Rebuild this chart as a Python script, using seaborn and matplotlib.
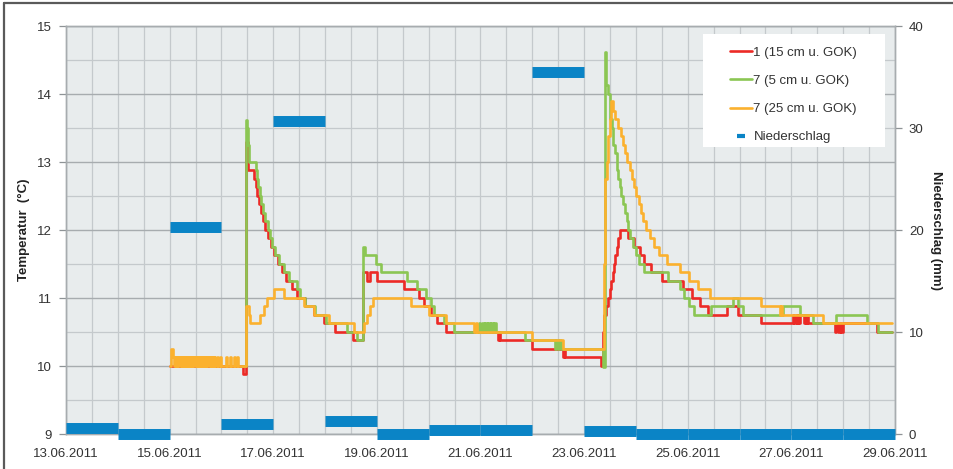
import numpy as np
import pandas as pd
import matplotlib
matplotlib.use("Agg")
import matplotlib.pyplot as plt
import seaborn as sns
from matplotlib.ticker import MultipleLocator, FixedLocator, FixedFormatter
from matplotlib.lines import Line2D
from matplotlib.patches import Rectangle

# x values are days since 13.06.2011 00:00, step values in degC
t1_days = [2.00, 3.42, 3.47, 3.52, 3.62, 3.66, 3.69, 3.72, 3.76, 3.80, 3.85, 3.90, 3.96,
           4.02, 4.09, 4.16, 4.24, 4.36, 4.45, 4.62, 4.78, 4.98, 5.20, 5.53, 5.74, 5.80,
           5.86, 6.01, 6.53, 6.81, 6.91, 7.04, 7.17, 7.33, 8.33, 8.35, 8.37, 9.00,
           9.59, 9.61, 9.63, 10.33, 10.37, 10.39, 10.43, 10.46, 10.49, 10.52, 10.55,
           10.58, 10.60, 10.63, 10.66, 10.69, 10.85, 10.97, 11.08, 11.16, 11.30, 11.50,
           11.90, 12.08, 12.23, 12.39, 12.75, 12.97, 13.42, 14.04, 14.06, 14.08, 14.10,
           14.12, 14.14, 14.16, 14.23, 14.25, 14.27, 14.29, 14.31, 14.33, 14.84, 14.87,
           14.90, 14.93, 14.96, 15.00, 15.65, 15.94]
t1_temp = [10.0, 9.88, 13.3, 12.88, 12.75, 12.63, 12.5, 12.38, 12.25, 12.13, 12.0, 11.88, 11.75,
           11.63, 11.5, 11.38, 11.25, 11.13, 11.0, 10.88, 10.75, 10.63, 10.5, 10.38, 11.38, 11.25,
           11.38, 11.25, 11.13, 11.0, 10.88, 10.75, 10.63, 10.5, 10.38, 10.5, 10.38, 10.25,
           10.13, 10.25, 10.13, 10.0, 10.5, 10.75, 10.88, 11.0, 11.13, 11.25, 11.38,
           11.5, 11.63, 11.75, 11.88, 12.0, 11.88, 11.75, 11.63, 11.5, 11.38, 11.25,
           11.13, 11.0, 10.88, 10.75, 10.88, 10.75, 10.63, 10.75, 10.63, 10.75, 10.63,
           10.75, 10.63, 10.75, 10.75, 10.63, 10.75, 10.63, 10.75, 10.63, 10.5, 10.63,
           10.5, 10.63, 10.5, 10.63, 10.5, 10.5]

t7_days = [3.40, 3.48, 3.50, 3.52, 3.54, 3.66, 3.69, 3.71, 3.74, 3.77, 3.81, 3.85, 3.89,
           3.93, 3.98, 4.04, 4.12, 4.20, 4.30, 4.45, 4.52, 4.62, 4.80, 5.02, 5.43, 5.62,
           5.73, 5.78, 5.98, 6.07, 6.59, 6.78, 6.94, 7.04, 7.10, 7.30, 7.49, 7.97, 8.00,
           8.03, 8.06, 8.09, 8.12, 8.15, 8.18, 8.21, 8.24, 8.27, 8.30, 8.85, 9.43, 9.46,
           9.49, 9.52, 9.55, 9.59, 10.36, 10.41, 10.43, 10.47, 10.50, 10.53, 10.56, 10.60,
           10.63, 10.66, 10.69, 10.72, 10.75, 10.78, 10.82, 10.85, 10.88, 10.95, 11.00,
           11.06, 11.15, 11.62, 11.85, 11.92, 12.02, 12.12, 12.45, 12.88, 12.97, 13.07,
           13.84, 14.16, 14.42, 14.87, 15.45, 15.68, 15.94]
t7_temp = [10.0, 13.62, 13.5, 13.25, 13.0, 12.88, 12.75, 12.63, 12.5, 12.38, 12.25, 12.13, 12.0,
           11.88, 11.75, 11.63, 11.5, 11.38, 11.25, 11.13, 11.0, 10.88, 10.75, 10.63, 10.5, 10.38,
           11.75, 11.63, 11.5, 11.38, 11.25, 11.13, 11.0, 10.88, 10.75, 10.63, 10.5, 10.63, 10.5,
           10.63, 10.5, 10.63, 10.5, 10.63, 10.5, 10.63, 10.5, 10.63, 10.5, 10.38, 10.25, 10.38,
           10.25, 10.38, 10.25, 10.25, 9.98, 14.62, 14.13, 14.0, 13.63, 13.5, 13.25, 13.13,
           12.88, 12.75, 12.63, 12.5, 12.38, 12.25, 12.13, 12.0, 11.88, 11.75, 11.63,
           11.5, 11.38, 11.25, 11.13, 11.0, 10.88, 10.75, 10.88, 11.0, 10.88, 10.75,
           10.88, 10.75, 10.63, 10.75, 10.63, 10.5, 10.5]

t25_days = [2.00, 2.03, 2.07, 2.09, 2.10, 2.13, 2.14, 2.17, 2.18, 2.21, 2.22, 2.25, 2.26,
            2.29, 2.30, 2.33, 2.34, 2.37, 2.38, 2.41, 2.42, 2.45, 2.46, 2.49, 2.50, 2.53,
            2.54, 2.57, 2.58, 2.61, 2.62, 2.65, 2.66, 2.69, 2.70, 2.73, 2.74, 2.77, 2.78,
            2.81, 2.82, 2.85, 2.86, 2.88, 2.91, 2.93, 2.98, 3.00, 3.08, 3.10, 3.17, 3.19,
            3.24, 3.26, 3.30, 3.32, 3.47, 3.53, 3.56, 3.75, 3.83, 3.88, 4.01, 4.20, 4.59,
            4.78, 5.07, 5.56, 5.75, 5.80, 5.86, 5.93, 6.65, 7.00, 7.33, 7.88, 7.91, 7.94,
            7.97, 9.00, 9.59, 10.39, 10.41, 10.44, 10.46, 10.49, 10.51, 10.55, 10.60, 10.66,
            10.71, 10.75, 10.79, 10.83, 10.88, 10.92, 10.96, 11.00, 11.05, 11.10, 11.14,
            11.20, 11.27, 11.34, 11.44, 11.60, 11.86, 12.02, 12.20, 12.42, 13.42, 13.78,
            13.80, 13.82, 14.62, 15.94]
t25_temp = [10.0, 10.25, 10.13, 10.0, 10.13, 10.0, 10.13, 10.0, 10.13, 10.0, 10.13, 10.0, 10.13,
            10.0, 10.13, 10.0, 10.13, 10.0, 10.13, 10.0, 10.13, 10.0, 10.13, 10.0, 10.13, 10.0,
            10.13, 10.0, 10.13, 10.0, 10.13, 10.0, 10.13, 10.0, 10.13, 10.0, 10.13, 10.0, 10.13,
            10.0, 10.13, 10.0, 10.13, 10.0, 10.13, 10.0, 10.13, 10.0, 10.13, 10.0, 10.13, 10.0,
            10.13, 10.0, 10.13, 10.0, 10.88, 10.75, 10.63, 10.75, 10.88, 11.0, 11.13, 11.0, 10.88,
            10.75, 10.63, 10.5, 10.63, 10.75, 10.88, 11.0, 10.88, 10.75, 10.63, 10.5, 10.63, 10.5,
            10.5, 10.38, 10.25, 11.5, 12.75, 13.0, 13.38, 13.63, 13.89, 13.75, 13.63, 13.5,
            13.38, 13.25, 13.13, 13.0, 12.88, 12.75, 12.63, 12.5, 12.38, 12.25, 12.13,
            12.0, 11.88, 11.75, 11.63, 11.5, 11.38, 11.25, 11.13, 11.0, 10.88, 10.75,
            10.88, 10.75, 10.63, 10.63]

# daily precipitation in mm, one value per day starting 13.06.2011
precip_mm = [0.6, 0.0, 20.3, 1.0, 30.7, 1.3, 0.0, 0.4, 0.4, 35.5, 0.3, 0.0, 0.0, 0.0, 0.0, 0.0]

tick_days = [0, 2, 4, 6, 8, 10, 12, 14, 16]
tick_labels = ["13.06.2011", "15.06.2011", "17.06.2011", "19.06.2011", "21.06.2011",
               "23.06.2011", "25.06.2011", "27.06.2011", "29.06.2011"]

series_names = ["1 (15 cm u. GOK)", "7 (5 cm u. GOK)", "7 (25 cm u. GOK)"]
series_colors = ["#ec2a26", "#8bc653", "#fbb12e"]
rain_color = "#0a84c6"

sns.set_style("white")
plt.rcParams["font.family"] = ["Liberation Sans", "DejaVu Sans"]

fig = plt.figure(figsize=(9.54, 4.69), dpi=100)
ax = fig.add_axes([66 / 954, 35 / 469, 829 / 954, 408 / 469])
ax.set_facecolor("#e8eced")

for days, temp, col in zip([t1_days, t7_days, t25_days], [t1_temp, t7_temp, t25_temp], series_colors):
    df = pd.DataFrame({"day": days, "temp": temp})
    sns.lineplot(data=df, x="day", y="temp", ax=ax, color=col, lw=1.9,
                 drawstyle="steps-post", estimator=None, sort=False, legend=False)

ax.set_xlim(0, 16)
ax.set_ylim(9, 15)
ax.xaxis.set_major_locator(FixedLocator(tick_days))
ax.xaxis.set_major_formatter(FixedFormatter(tick_labels))
ax.xaxis.set_minor_locator(MultipleLocator(0.5))
ax.yaxis.set_major_locator(MultipleLocator(1))
ax.yaxis.set_minor_locator(MultipleLocator(0.5))
ax.grid(which="major", axis="y", color="#a7acaf", lw=1.0)
ax.grid(which="minor", axis="y", color="#c4c9cc", lw=0.9)
ax.grid(which="both", axis="x", color="#c4c9cc", lw=0.9)
ax.set_axisbelow(True)
ax.tick_params(axis="both", which="major", length=5, width=0.9, color="#8e9396",
               labelsize=9.5, labelcolor="#333333", pad=5)
ax.tick_params(axis="both", which="minor", length=0)
ax.set_xlabel("")
ax.set_ylabel("Temperatur  (°C)", fontsize=9.5, fontweight="bold", color="#222222", labelpad=5)
for sp in ax.spines.values():
    sp.set_color("#a7acaf")
    sp.set_linewidth(1.0)

# precipitation on the right axis
ax2 = ax.twinx()
ax2.set_ylim(0, 40)
day_start = np.arange(len(precip_mm))
ax2.hlines(precip_mm, day_start, day_start + 1, colors=rain_color, lw=7.9,
           capstyle="butt", clip_on=False, zorder=3)
ax2.yaxis.set_major_locator(MultipleLocator(10))
ax2.tick_params(axis="y", length=5, width=0.9, color="#8e9396",
                labelsize=9.5, labelcolor="#333333", pad=5)
ax2.set_ylabel("Niederschlag (mm)", fontsize=9.5, fontweight="bold", color="#222222",
               rotation=270, labelpad=13)
for sp in ax2.spines.values():
    sp.set_color("#a7acaf")
    sp.set_linewidth(1.0)

# legend on a white box
ax2.add_patch(Rectangle((0.768, 0.703), 0.220, 0.277, transform=ax2.transAxes,
                        facecolor="white", edgecolor="none", zorder=4))
handles = [Line2D([], [], color=c, lw=1.9) for c in series_colors]
handles.append(Line2D([], [], color=rain_color, marker="_", linestyle="None",
                      markersize=6, markeredgewidth=3))
leg = ax2.legend(handles, series_names + ["Niederschlag"], loc="upper left",
                 bbox_to_anchor=(0.795, 0.962), frameon=False, fontsize=9.5,
                 handlelength=1.65, handletextpad=0.1, labelspacing=1.2, borderaxespad=0)
leg.set_zorder(5)
for txt in leg.get_texts():
    txt.set_color("#333333")

# outer frame (only top and left edges are visible in the crop)
fig.add_artist(Line2D([4.5 / 954, 4.5 / 954], [0, 1 - 3.5 / 469], transform=fig.transFigure,
                      color="#5a5a5a", lw=1.6))
fig.add_artist(Line2D([4.5 / 954, 1], [1 - 3.5 / 469, 1 - 3.5 / 469], transform=fig.transFigure,
                      color="#5a5a5a", lw=1.6))

fig.savefig("out.png", dpi=100)
